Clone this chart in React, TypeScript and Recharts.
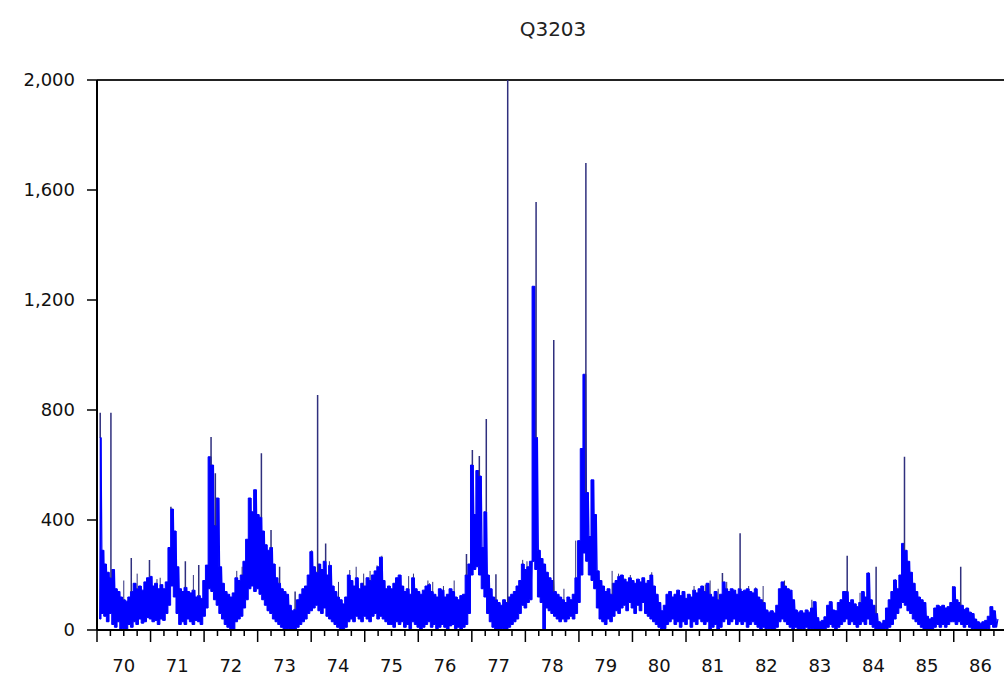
import React from "react";
import { ComposedChart, Line, Area, XAxis, YAxis, ReferenceLine } from "recharts";

// Sampled spectrum Q3203: the dense noisy trace is stored as a lower and an
// upper envelope on a regular grid, plus lists of isolated narrow spikes.
const TITLE = "Q3203";
const X_START = 69.55;
const X_STEP = 0.05;

// upper envelope, one value every 0.05 from 69.55 to 86.30
const bandHigh: number[] = [
  // 69.55 - 69.95
  700, 290, 240, 210, 190, 220, 150, 140, 120,
  // 70
  110, 105, 120, 140, 170, 150, 160, 145, 175, 190, 195, 160, 170, 150, 165, 150, 175, 300, 440, 360,
  // 71
  230, 150, 140, 155, 140, 135, 145, 120, 125, 115, 180, 236, 630, 600, 380, 480, 230, 170, 140, 130,
  // 72
  120, 135, 190, 180, 200, 250, 330, 480, 430, 510, 420, 410, 360, 310, 290, 300, 240, 190, 170, 150,
  // 73
  140, 130, 90, 70, 75, 110, 130, 150, 160, 200, 285, 230, 210, 240, 220, 250, 200, 235, 160, 140,
  // 74
  120, 110, 95, 120, 200, 180, 160, 190, 150, 170, 160, 190, 180, 200, 215, 230, 265, 180, 150, 160,
  // 75
  150, 170, 190, 200, 160, 140, 150, 130, 190, 150, 140, 130, 145, 160, 165, 140, 130, 120, 150, 145,
  // 76
  120, 130, 150, 140, 120, 110, 125, 130, 200, 240, 600, 420, 580, 560, 300, 430, 200, 150, 120, 110,
  // 77
  100, 90, 110, 100, 120, 130, 140, 160, 180, 240, 220, 230, 250, 1250, 700, 290, 260, 240, 210, 190,
  // 78
  180, 140, 130, 120, 110, 100, 120, 110, 130, 190, 325, 660, 930, 500, 340, 546, 420, 215, 180, 160,
  // 79
  140, 150, 130, 170, 180, 195, 200, 185, 175, 190, 180, 170, 185, 175, 190, 170, 180, 200, 160, 130,
  // 80
  100, 70, 90, 130, 140, 120, 130, 145, 125, 140, 115, 130, 120, 145, 135, 150, 160, 140, 170, 130,
  // 81
  120, 140, 110, 130, 175, 150, 140, 150, 145, 130, 150, 140, 145, 150, 140, 135, 150, 120, 110, 100,
  // 82
  73, 65, 70, 62, 90, 150, 175, 160, 150, 145, 110, 73, 65, 70, 62, 73, 65, 80, 103, 45,
  // 83
  30, 35, 48, 90, 103, 73, 70, 100, 110, 140, 140, 100, 110, 95, 85, 100, 140, 120, 207, 110,
  // 84
  90, 60, 30, 25, 35, 80, 110, 140, 182, 150, 200, 315, 290, 250, 210, 170, 140, 120, 110, 100,
  // 85
  50, 40, 45, 80, 90, 85, 90, 80, 85, 100, 157, 110, 100, 90, 75, 80, 65, 60, 40, 30,
  // 86.00 - 86.30
  25, 30, 35, 50, 85, 70, 40,
];

// lower envelope on the same grid
const bandLow: number[] = [
  // 69.55 - 69.95
  40, 60, 50, 30, 60, 20, 10, 30, 0,
  // 70
  5, 0, 20, 10, 30, 20, 40, 25, 30, 45, 40, 30, 35, 20, 40, 35, 60, 90, 160, 120,
  // 71
  60, 20, 30, 20, 40, 30, 20, 35, 30, 20, 50, 80, 150, 140, 110, 90, 60, 40, 20, 10,
  // 72
  5, 0, 30, 40, 50, 80, 110, 150, 160, 140, 150, 130, 110, 90, 70, 60, 40, 30, 20, 10,
  // 73
  0, 5, 0, 0, 0, 10, 20, 30, 40, 60, 70, 80, 90, 70, 60, 80, 50, 40, 30, 20,
  // 74
  10, 5, 0, 10, 30, 40, 30, 50, 40, 30, 50, 40, 30, 50, 60, 40, 50, 40, 30, 20,
  // 75
  20, 10, 30, 20, 30, 10, 20, 5, 30, 20, 10, 0, 10, 20, 30, 10, 20, 5, 10, 20,
  // 76
  10, 0, 15, 20, 5, 10, 0, 10, 20, 60, 200, 220, 230, 200, 150, 120, 60, 30, 10, 0,
  // 77
  0, 5, 0, 0, 10, 20, 30, 40, 60, 90, 80, 100, 110, 250, 220, 120, 100, 0, 80, 70,
  // 78
  60, 50, 40, 30, 40, 30, 40, 50, 40, 60, 100, 200, 280, 250, 200, 180, 150, 80, 40, 30,
  // 79
  20, 40, 30, 50, 70, 60, 80, 90, 70, 100, 80, 60, 90, 70, 100, 60, 50, 40, 30, 20,
  // 80
  10, 0, 5, 20, 30, 40, 20, 30, 10, 30, 20, 40, 10, 30, 20, 40, 30, 20, 30, 0,
  // 81
  10, 20, 0, 10, 30, 40, 20, 30, 40, 20, 30, 20, 30, 10, 20, 30, 20, 10, 0, 10,
  // 82
  0, 5, 0, 0, 10, 30, 40, 30, 20, 10, 0, 10, 0, 5, 0, 10, 0, 5, 0, 0,
  // 83
  0, 0, 5, 10, 20, 10, 0, 10, 20, 30, 40, 20, 30, 20, 10, 20, 30, 20, 40, 20,
  // 84
  10, 0, 0, 0, 0, 5, 10, 20, 40, 60, 80, 100, 90, 70, 60, 40, 30, 20, 10, 0,
  // 85
  0, 0, 0, 10, 20, 10, 20, 10, 20, 30, 30, 20, 30, 20, 10, 20, 10, 5, 0, 0,
  // 86.00 - 86.30
  0, 0, 0, 5, 20, 10, 10,
];

// tall isolated lines: [position, height]
const spikes: [number, number][] = [
  [69.56, 790], [69.76, 790], [70.14, 262], [70.48, 255], [70.88, 448],
  [71.15, 250], [71.4, 236], [71.63, 702], [71.71, 570], [72.57, 643],
  [72.75, 364], [72.91, 230], [73.2, 140], [73.62, 855], [73.77, 315],
  [76.4, 276], [76.51, 655], [76.64, 633], [76.77, 767], [76.95, 203],
  [77.17, 2000], [77.7, 1556], [78.03, 1055], [78.63, 1698], [81.18, 207],
  [81.51, 352], [83.51, 270], [84.05, 230], [84.58, 630], [85.63, 230],
];

// short lines sticking out of the noise band: [position, height]
const minorSpikes: [number, number][] = [
  [70.0, 180], [70.25, 205], [70.62, 185], [70.68, 190], [71.3, 200],
  [72.11, 215], [72.21, 230], [73.51, 290], [73.84, 250], [74.01, 175],
  [74.22, 218], [74.34, 230], [74.48, 205], [74.6, 215], [74.73, 235],
  [74.82, 270], [75.32, 196], [75.41, 205], [75.68, 180], [75.71, 170],
  [75.77, 175], [75.97, 160], [76.17, 180], [77.45, 255], [77.53, 250],
  [78.22, 150], [78.44, 325], [79.12, 215], [79.24, 205], [79.46, 200],
  [79.86, 210], [80.65, 160], [80.86, 165], [80.95, 180], [81.1, 150],
  [81.26, 175], [81.67, 160], [81.8, 155], [81.94, 160], [82.34, 180],
  [82.85, 110], [83.19, 105], [83.75, 135], [83.91, 210], [84.41, 185],
  [85.48, 160], [86.21, 85],
];

const yTicks = [0, 400, 800, 1200, 1600, 2000];
const xDomain: [number, number] = [69.5, 86.5];
const xTickStep = 0.25;

// filled band between the envelopes
const bandArea = bandHigh.map((h, i) => ({
  x: X_START + i * X_STEP,
  range: [bandLow[i], h],
}));

// zig-zag between the two envelopes gives the ragged texture of the raw trace
const bandPoints: { x: number; v: number }[] = [];
bandHigh.forEach((h, i) => {
  const x = X_START + i * X_STEP;
  bandPoints.push({ x, v: bandLow[i] });
  bandPoints.push({ x: x + X_STEP / 2, v: h });
});

const bandTopAt = (sx: number) => {
  const idx = Math.min(bandHigh.length - 1, Math.max(0, Math.round((sx - X_START) / X_STEP)));
  return bandHigh[idx];
};

// each spike rises from the local top of the band; nulls break the line
const toSegments = (list: [number, number][]) => {
  const pts: { x: number; s: number | null }[] = [];
  list.forEach(([sx, top]) => {
    pts.push({ x: sx, s: Math.min(bandTopAt(sx), top) });
    pts.push({ x: sx, s: top });
    pts.push({ x: sx, s: null });
  });
  return pts;
};
const spikePoints = toSegments(spikes);
const minorSpikePoints = toSegments(minorSpikes);

const xTicks: number[] = [];
for (let v = xDomain[0]; v <= xDomain[1] + 1e-9; v += xTickStep) {
  xTicks.push(Math.round(v * 100) / 100);
}

const FONT = "'DejaVu Sans', Tahoma, sans-serif";
const BLUE = "#0000ff";
const SPIKE = "#30307e";

const XTick = (props: any) => {
  const { x, y, payload } = props;
  const v: number = payload.value;
  const isMajor = Math.abs(v - Math.floor(v) - 0.5) < 1e-6;
  const isLabel = Math.abs(v - Math.round(v)) < 1e-6;
  return (
    <g>
      <line x1={x} x2={x} y1={y} y2={y + (isMajor ? 12 : 6)} stroke="#000" strokeWidth={1.5} />
      {isLabel && (
        <text x={x} y={y + 42} textAnchor="middle" fontSize={18} fontFamily={FONT} fill="#111">
          {v}
        </text>
      )}
    </g>
  );
};

export default function App() {
  return (
    <div
      style={{
        position: "absolute",
        left: 0,
        top: 0,
        width: 1004,
        height: 677,
        overflow: "hidden",
        background: "#fff",
      }}
    >
      <div
        style={{
          position: "absolute",
          left: 453,
          top: 17,
          width: 200,
          textAlign: "center",
          fontFamily: FONT,
          fontSize: 20,
          lineHeight: "24px",
          color: "#222",
        }}
      >
        {TITLE}
      </div>
      <ComposedChart width={1020} height={677} margin={{ top: 80, right: 12.7, bottom: 0, left: 17 }}>
        <XAxis
          dataKey="x"
          type="number"
          domain={xDomain}
          ticks={xTicks}
          interval={0}
          allowDataOverflow
          height={47}
          tickSize={0}
          tickMargin={0}
          tickLine={false}
          axisLine={{ stroke: "#000", strokeWidth: 2 }}
          tick={<XTick />}
        />
        <YAxis
          type="number"
          domain={[0, 2000]}
          ticks={yTicks}
          interval={0}
          width={80}
          tickSize={10}
          tickMargin={12}
          axisLine={{ stroke: "#000", strokeWidth: 2 }}
          tickLine={{ stroke: "#000", strokeWidth: 1.5 }}
          tick={{ fill: "#111", fontSize: 18, fontFamily: FONT }}
          tickFormatter={(v: number) => v.toLocaleString("en-US")}
        />
        <ReferenceLine y={2000} stroke="#222" strokeWidth={2} ifOverflow="visible" />
        <Area
          data={bandArea}
          dataKey="range"
          type="step"
          stroke={BLUE}
          strokeWidth={1}
          fill={BLUE}
          fillOpacity={1}
          dot={false}
          activeDot={false}
          isAnimationActive={false}
        />
        <Line
          data={bandPoints}
          dataKey="v"
          stroke={BLUE}
          strokeWidth={1.2}
          dot={false}
          activeDot={false}
          isAnimationActive={false}
        />
        <Line
          data={minorSpikePoints}
          dataKey="s"
          stroke={SPIKE}
          strokeWidth={1}
          dot={false}
          activeDot={false}
          connectNulls={false}
          isAnimationActive={false}
        />
        <Line
          data={spikePoints}
          dataKey="s"
          stroke={SPIKE}
          strokeWidth={1.5}
          dot={false}
          activeDot={false}
          connectNulls={false}
          isAnimationActive={false}
        />
      </ComposedChart>
    </div>
  );
}
